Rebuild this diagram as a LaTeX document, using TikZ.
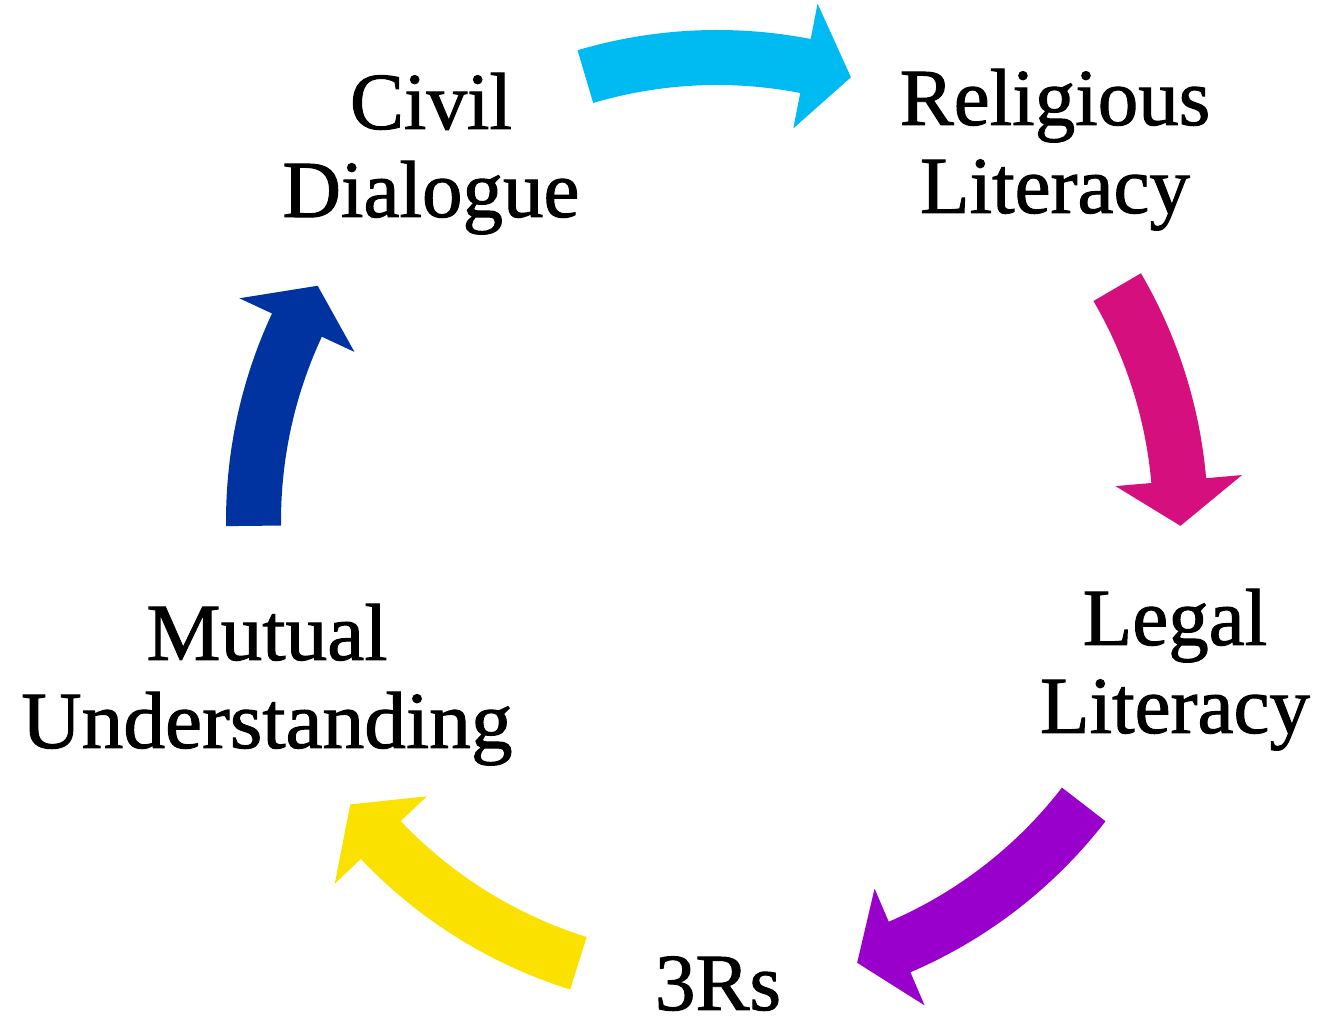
\documentclass[tikz,border=0pt]{standalone}
\usepackage{fontspec}
\setmainfont[FakeBold=1.2]{Liberation Serif}
\definecolor{arrCyan}{RGB}{0,187,242}
\definecolor{arrMagenta}{RGB}{213,16,126}
\definecolor{arrPurple}{RGB}{153,0,204}
\definecolor{arrYellow}{RGB}{250,225,0}
\definecolor{arrBlue}{RGB}{0,51,160}
% #1 colour, #2 tail angle, #3 head-base angle, #4 tip angle
\newcommand{\CycleArrowShape}[4]{%
  \fill[#1] (#2:491) arc[start angle=#2, end angle=#3, radius=491pt]
    -- (#3:527) -- (#4:463.5) -- (#3:400) -- (#3:436)
    arc[start angle=#3, end angle=#2, radius=436pt] -- cycle;}
\tikzset{
  lbl/.style={font=\fontsize{81}{88}\selectfont, align=center, anchor=base, inner sep=0pt}
}
\begin{document}
\begin{tikzpicture}[x=1pt,y=1pt]
\useasboundingbox (0,0) rectangle (1317,1022);
\node[lbl] (civil) at (431,805) {Civil\\Dialogue};
\node[lbl] (relig) at (1055,809) {Religious\\Literacy};
\node[lbl] (legal) at (1175,289) {Legal\\Literacy};
\node[lbl, text depth=0pt] (threer) at (718,12) {3Rs};
\node[lbl, xscale=1.03] (mutual) at (267,274) {Mutual\\Understanding};
\begin{scope}[shift={(717,501)}]
  \CycleArrowShape{arrCyan}{106.5}{79}{73.2}
  \CycleArrowShape{arrMagenta}{30.3}{5}{-0.6}
  \CycleArrowShape{arrPurple}{-37.7}{-66.8}{-72.4}
  \CycleArrowShape{arrYellow}{-107.4}{-136.5}{-142.3}
  \CycleArrowShape{arrBlue}{180.6}{155}{149.5}
\end{scope}
\end{tikzpicture}
\end{document}
